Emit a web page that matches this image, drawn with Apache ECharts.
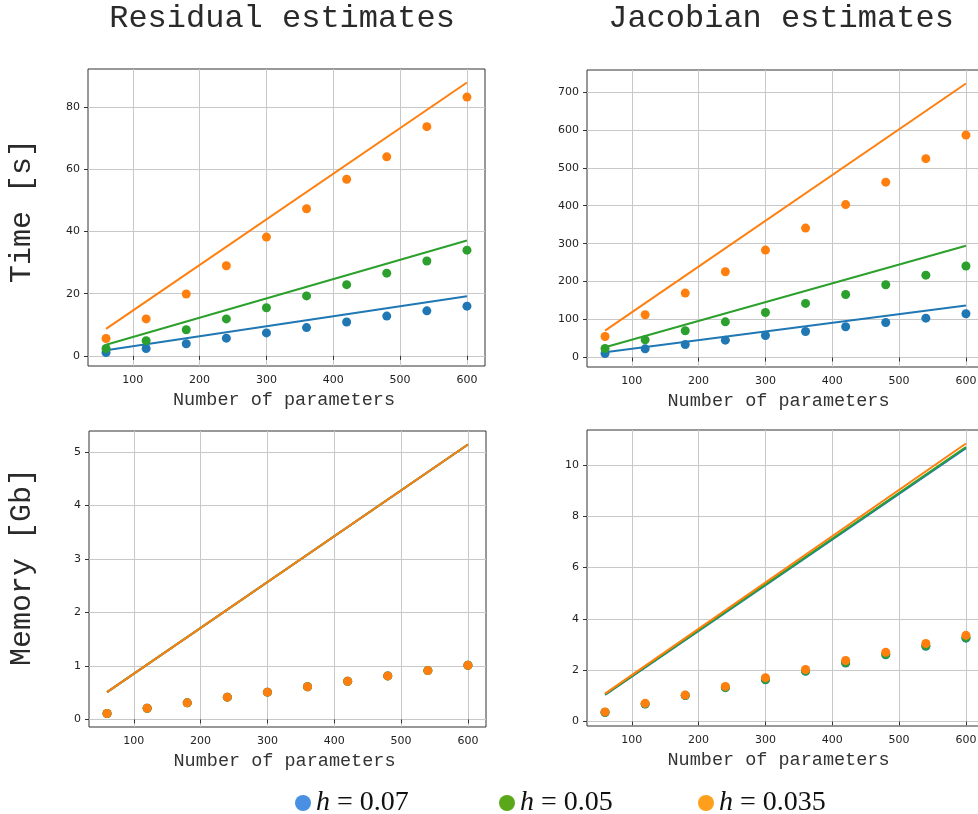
<!DOCTYPE html>
<html>
<head>
<meta charset="utf-8">
<script src="https://cdn.jsdelivr.net/npm/echarts@6/dist/echarts.min.js"></script>
<style>
html,body{margin:0;padding:0;background:#fff;overflow:hidden;width:978px;height:814px;}
#chart{width:990px;height:814px;}
</style>
</head>
<body>
<div id="chart"></div>
<script>
// ---------- data ----------
const params = [60, 120, 180, 240, 300, 360, 420, 480, 540, 600];
const fitX = [60, 600];
const seriesNames = ['h = 0.07', 'h = 0.05', 'h = 0.035'];

const xTicks = [100, 200, 300, 400, 500, 600];
const yTicksResTime = [0, 20, 40, 60, 80];
const yTicksJacTime = [0, 100, 200, 300, 400, 500, 600, 700];
const yTicksResMem = [0, 1, 2, 3, 4, 5];
const yTicksJacMem = [0, 2, 4, 6, 8, 10];

// Residual estimates – time [s]
const resTime07 = [1.1, 2.4, 3.9, 5.7, 7.4, 9.1, 10.9, 12.8, 14.5, 16.0];
const resTime05 = [2.4, 4.9, 8.4, 11.9, 15.5, 19.3, 22.9, 26.6, 30.5, 34.0];
const resTime035 = [5.6, 11.9, 19.9, 29.0, 38.2, 47.3, 56.8, 64.0, 73.7, 83.2];
const resTimeFit07 = [1.8, 19.2];
const resTimeFit05 = [3.6, 37.1];
const resTimeFit035 = [8.7, 87.9];

// Jacobian estimates – time [s]
const jacTime07 = [10.6, 22.9, 34.3, 45.7, 58.0, 68.6, 81.0, 92.3, 103.8, 115.2];
const jacTime05 = [23.7, 46.6, 70.4, 94.0, 118.7, 142.5, 166.0, 191.7, 217.0, 241.0];
const jacTime035 = [55.4, 112.6, 169.7, 226.0, 283.0, 341.0, 403.0, 462.0, 524.0, 586.0];
const jacTimeFit07 = [14, 137];
const jacTimeFit05 = [27, 294.6];
const jacTimeFit035 = [71, 722];

// Residual estimates – memory [Gb]
const resMem07 = [0.11, 0.21, 0.31, 0.416, 0.51, 0.61, 0.714, 0.814, 0.913, 1.012];
const resMem05 = [0.11, 0.21, 0.31, 0.416, 0.51, 0.61, 0.714, 0.814, 0.913, 1.012];
const resMem035 = [0.11, 0.21, 0.31, 0.416, 0.51, 0.61, 0.714, 0.814, 0.913, 1.012];
const resMemFit07 = [0.51, 5.14];
const resMemFit05 = [0.51, 5.14];
const resMemFit035 = [0.51, 5.14];

// Jacobian estimates – memory [Gb]
const jacMem07 = [0.35, 0.68, 1.01, 1.32, 1.63, 1.96, 2.28, 2.60, 2.93, 3.25];
const jacMem05 = [0.36, 0.69, 1.02, 1.33, 1.65, 1.98, 2.30, 2.62, 2.96, 3.28];
const jacMem035 = [0.375, 0.71, 1.03, 1.37, 1.71, 2.03, 2.38, 2.70, 3.04, 3.36];
const jacMemFit07 = [1.04, 10.66];
const jacMemFit05 = [1.06, 10.70];
const jacMemFit035 = [1.085, 10.84];

// ---------- styles ----------
const plotColors = ['#1f77b4', '#2ca02c', '#ff7f0e'];
const legendColors = ['#4a90e2', '#5aa81a', '#ff9f1c'];
const mono = '"Liberation Mono", "DejaVu Sans Mono", monospace';
const sans = '"DejaVu Sans", sans-serif';
const serif = '"Liberation Serif", "DejaVu Serif", serif';

const grids = [
  {left: 88, top: 69, width: 397, height: 297},
  {left: 587, top: 70, width: 397, height: 297},
  {left: 89, top: 431, width: 397, height: 296},
  {left: 587, top: 430, width: 397, height: 296}
];
const xNamePad = [[0, 5, 0, 0], [0, 14, 0, 0], [0, 6, 0, 0], [0, 14, 0, 0]];

const panels = [
  {pts: [resTime07, resTime05, resTime035], fits: [resTimeFit07, resTimeFit05, resTimeFit035], yt: yTicksResTime},
  {pts: [jacTime07, jacTime05, jacTime035], fits: [jacTimeFit07, jacTimeFit05, jacTimeFit035], yt: yTicksJacTime},
  {pts: [resMem07, resMem05, resMem035], fits: [resMemFit07, resMemFit05, resMemFit035], yt: yTicksResMem},
  {pts: [jacMem07, jacMem05, jacMem035], fits: [jacMemFit07, jacMemFit05, jacMemFit035], yt: yTicksJacMem}
];

function range(vals) {
  const lo = Math.min(...vals), hi = Math.max(...vals);
  const m = (hi - lo) * 0.05;
  return [lo - m, hi + m];
}

const xR = range(params);
const xAxes = [], yAxes = [], series = [];

panels.forEach((p, i) => {
  const all = [].concat(...p.pts, ...p.fits);
  const yR = range(all);
  const common = {
    gridIndex: i,
    type: 'value',
    axisLine: {show: false},
    axisTick: {show: true, inside: false, length: 4, lineStyle: {color: '#333', width: 1}},
    splitLine: {show: true, lineStyle: {color: '#c8c8c8', width: 1}},
    axisLabel: {color: '#222', fontSize: 11, fontFamily: sans, margin: 7}
  };
  xAxes.push(Object.assign({}, common, {
    min: xR[0], max: xR[1],
    name: 'Number of parameters', nameLocation: 'middle', nameGap: 25,
    nameTextStyle: {fontFamily: mono, fontSize: 18.5, color: '#333', padding: xNamePad[i]},
    axisTick: Object.assign({}, common.axisTick, {customValues: xTicks}),
    axisLabel: Object.assign({}, common.axisLabel, {customValues: xTicks, margin: 9})
  }));
  yAxes.push(Object.assign({}, common, {
    min: yR[0], max: yR[1],
    axisTick: Object.assign({}, common.axisTick, {customValues: p.yt}),
    axisLabel: Object.assign({}, common.axisLabel, {customValues: p.yt, margin: 8})
  }));
  for (let k = 0; k < 3; k++) {
    series.push({
      name: seriesNames[k], type: 'line', xAxisIndex: i, yAxisIndex: i,
      data: fitX.map((x, j) => [x, p.fits[k][j]]),
      showSymbol: false, symbol: 'none',
      lineStyle: {color: plotColors[k], width: 2},
      itemStyle: {color: plotColors[k]},
      z: 3 + k, silent: true
    });
    series.push({
      name: seriesNames[k], type: 'scatter', xAxisIndex: i, yAxisIndex: i,
      data: params.map((x, j) => [x, p.pts[k][j]]),
      symbolSize: 9,
      itemStyle: {color: plotColors[k], opacity: 1},
      z: 3 + k, silent: true
    });
  }
});

const legendLeft = [290, 494, 693];
const legends = seriesNames.map((n, k) => ({
  data: [{name: n, icon: 'circle', itemStyle: {color: legendColors[k]}}],
  left: legendLeft[k], top: 784,
  itemWidth: 16, itemHeight: 16,
  selectedMode: false,
  formatter: name => '{i|h}' + name.slice(1),
  textStyle: {
    fontFamily: serif, fontSize: 28, color: '#111',
    rich: {i: {fontFamily: serif, fontStyle: 'italic', fontSize: 28, color: '#111'}}
  }
}));

const option = {
  animation: false,
  backgroundColor: '#fff',
  grid: grids.map(g => Object.assign({show: true, borderColor: '#333', borderWidth: 1, backgroundColor: 'transparent', containLabel: false}, g)),
  xAxis: xAxes,
  yAxis: yAxes,
  series: series,
  legend: legends,
  graphic: [
    {type: 'text', x: 282, y: 19, style: {text: 'Residual estimates', font: '32px ' + mono, fill: '#2a2a2a', textAlign: 'center', textVerticalAlign: 'middle'}},
    {type: 'text', x: 781, y: 19, style: {text: 'Jacobian estimates', font: '32px ' + mono, fill: '#2a2a2a', textAlign: 'center', textVerticalAlign: 'middle'}},
    {type: 'text', x: 22, y: 211, rotation: Math.PI / 2, style: {text: 'Time [s]', font: '30px ' + mono, fill: '#2a2a2a', textAlign: 'center', textVerticalAlign: 'middle'}},
    {type: 'text', x: 22, y: 567, rotation: Math.PI / 2, style: {text: 'Memory [Gb]', font: '30px ' + mono, fill: '#2a2a2a', textAlign: 'center', textVerticalAlign: 'middle'}}
  ]
};

const chart = echarts.init(document.getElementById('chart'), null, {renderer: 'canvas'});
chart.setOption(option);
</script>
</body>
</html>
